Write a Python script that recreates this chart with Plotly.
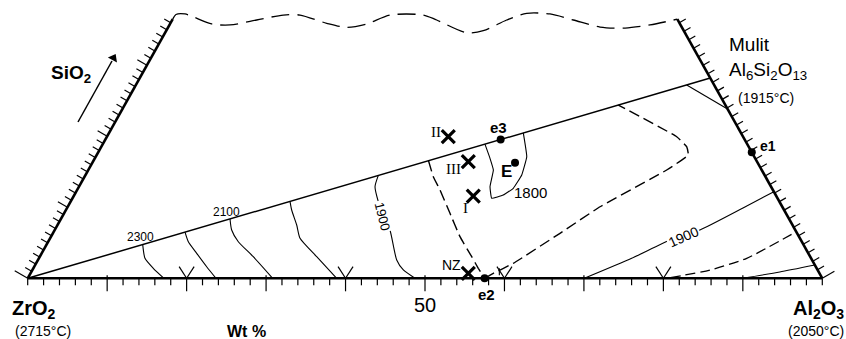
import plotly.graph_objects as go

# ZrO2–Al2O3–SiO2 section in wt %. Every point is (Al2O3, SiO2); ZrO2 is the remainder.
SIO2_TOP = 36.5
MULLITE = (71.8, 28.2)

# liquidus isotherms (solid)
iso_2300 = [(12.10, 4.75), (13.35, 2.82), (15.10, 1.41), (17.15, 0.0)]
iso_2200 = [(16.55, 6.50), (17.64, 5.15), (19.51, 3.52), (21.71, 1.63), (23.70, 0.0)]
iso_2100 = [(21.28, 8.36), (22.27, 6.80), (23.93, 5.15), (26.87, 3.04), (30.83, 0.0)]
iso_2000 = [(27.59, 10.84), (28.41, 9.62), (30.10, 7.51), (31.46, 5.63), (34.85, 3.04), (38.89, 0.0)]
iso_1900_zr = [(36.88, 14.49), (37.26, 12.90), (38.73, 10.79), (40.25, 8.92), (42.19, 6.80),
               (45.15, 2.58), (46.69, 1.17), (48.74, 0.0)]
iso_1900_al = [(70.05, 0.0), (74.60, 2.82), (78.15, 5.39), (81.20, 6.80), (85.07, 9.90), (87.80, 12.20)]
iso_1800_al = [(90.0, 0.0), (94.2, 0.89), (98.13, 1.87)]
iso_1800_e = [(48.10, 18.89), (49.73, 16.90), (50.98, 15.25), (51.73, 12.90), (52.76, 11.27),
              (53.99, 11.73), (54.77, 12.68), (54.90, 14.55), (54.24, 17.13), (52.13, 20.48)]
mullite_iso = [(69.32, 27.23), (76.15, 23.85)]

# dashed curves
iso_1850_al = [(80.85, 0.1), (85.28, 1.17), (89.08, 2.82), (93.44, 6.56)]
field_zr = [(42.16, 16.56), (43.89, 14.31), (45.67, 12.44), (48.57, 9.15), (51.47, 5.86),
            (54.36, 3.04), (56.00, 1.41), (57.50, 0.0)]
field_al = [(57.50, 0.0), (58.25, 0.70), (60.06, 2.11), (63.82, 6.34), (66.99, 10.08),
            (72.79, 15.25), (74.45, 17.37), (73.66, 18.54), (71.71, 19.94), (62.13, 24.40)]
top_break = [(0.0, 36.5), (0.08, 37.15), (1.18, 37.23), (5.25, 35.82), (7.62, 35.68), (10.63, 36.38),
             (13.63, 37.08), (15.73, 37.08), (19.67, 35.92), (22.47, 35.35), (24.75, 35.82),
             (27.05, 37.08), (31.25, 37.08), (33.28, 36.38), (37.95, 34.59), (39.90, 34.87),
             (42.09, 36.38), (44.14, 37.32), (47.11, 37.23), (50.47, 36.38), (54.33, 35.39),
             (57.55, 35.25), (60.48, 35.68), (63.5, 36.5)]

# invariant points and samples
eutectics = {"e1": (82.25, 17.75), "e2": (57.5, 0.0), "e3": (49.75, 19.54), "E": (53.19, 16.28)}
samples = {"I": (50.28, 11.59), "II": (42.96, 19.94), "III": (47.24, 16.42), "NZ": (55.10, 0.70)}

base_ticks = list(range(0, 101, 2))
fork_ticks = [20, 40, 60, 80]
left_ticks = list(range(0, 37))
right_ticks = [0, 1.2, 2.4, 3.6, 4.8, 6.0, 7.2, 8.4, 9.6, 10.8, 12.0, 13.2, 14.4, 15.6, 16.8, 18.0,
               19.2, 20.4, 21.6, 22.8, 24.0, 25.2, 26.4, 27.6, 28.8, 30.0, 31.2, 32.4, 33.6, 34.8, 36.0]

# drawing scale (pixels per unit of the base coordinate and of SiO2)
PX_X, PX_Y = 7.946, 7.1
W, H = 846, 339
ORIGIN_PX = (27.7, 278.3)


def proj(pts):
    return [a + s / 2 for a, s in pts], [s for a, s in pts]


fig = go.Figure()


def add_line(pts, width=1.1, dash="solid", shape="spline", smoothing=0.6):
    x, y = proj(pts)
    fig.add_trace(go.Scatter(x=x, y=y, mode="lines",
                             line=dict(color="black", width=width, dash=dash, shape=shape,
                                       smoothing=smoothing),
                             hoverinfo="skip"))


# frame
add_line([(0, 0), (100, 0)], width=2.6, shape="linear")
add_line([(0, 0), (0, SIO2_TOP)], width=2.6, shape="linear")
add_line([(100, 0), (100 - SIO2_TOP, SIO2_TOP)], width=2.6, shape="linear")
add_line([(0, 0), MULLITE], width=1.5, shape="linear")
add_line(top_break, width=1.3, dash="18px,8px", smoothing=0.8)

# tick marks
tx, ty = [], []


def seg(x0, y0, dxp, dyp, dxp0=0.0, dyp0=0.0):
    tx.extend([x0 + dxp0 / PX_X, x0 + dxp / PX_X, None])
    ty.extend([y0 + dyp0 / PX_Y, y0 + dyp / PX_Y, None])


for v in base_ticks:
    if v in fork_ticks:
        seg(v, 0, 0, -13)
        seg(v, 0, -7.5, 11.7)
        seg(v, 0, 7.5, 11.7)
    elif v % 10 == 0 and v not in (0, 100):
        seg(v, 0, 0, -13, 0, 3)
    else:
        seg(v, 0, 0, -7)
for s in left_ticks:
    L = 15 if s == 0 else (11 if s % 10 == 0 else 7.5)
    seg(s / 2, s, -0.866 * L, 0.5 * L)
for s in right_ticks:
    L = 14 if s == 0 else 7.5
    seg(100 - s / 2, s, 0.866 * L, 0.5 * L)
fig.add_trace(go.Scatter(x=tx, y=ty, mode="lines", line=dict(color="black", width=1.2),
                         hoverinfo="skip"))

# isotherms and field boundaries
for c in (iso_2300, iso_2200, iso_2100, iso_2000, iso_1900_zr, iso_1900_al, iso_1800_al):
    add_line(c)
add_line(iso_1800_e, width=1.1, smoothing=0.3)
add_line(mullite_iso, shape="linear")
add_line(iso_1850_al, width=1.3, dash="10px,5px")
add_line(field_zr, width=1.4, dash="11px,5px", smoothing=0.3)
add_line(field_al, width=1.4, dash="11px,5px", smoothing=0.3)

# small cross tick on the e2 boundary
cx, cy = proj([field_al[1]])
fig.add_trace(go.Scatter(x=[cx[0] + 6 / PX_X, cx[0] + 6 / PX_X], y=[cy[0] - 2 / PX_Y, cy[0] + 5 / PX_Y],
                         mode="lines", line=dict(color="black", width=1.1), hoverinfo="skip"))

ex, ey = proj(eutectics.values())
fig.add_trace(go.Scatter(x=ex, y=ey, mode="markers",
                         marker=dict(color="black", size=8, symbol="circle"), hoverinfo="skip"))
sx, sy = proj(samples.values())
fig.add_trace(go.Scatter(x=sx, y=sy, mode="markers",
                         marker=dict(color="black", size=13, symbol="x-thin",
                                     line=dict(color="black", width=3.2)), hoverinfo="skip"))

SANS = "Liberation Sans, Arial, sans-serif"
SERIF = "Liberation Serif, Times New Roman, serif"


def label_at(pt, text, dx, dy, size=14, bold=False, family=SANS, bg=None, angle=None):
    """Text placed dx, dy pixels away from a composition point."""
    x, y = proj([pt])
    opts = {}
    if bg:
        opts["bgcolor"] = bg
    if angle is not None:
        opts["textangle"] = angle
    fig.add_annotation(x=x[0] + dx / PX_X, y=y[0] + dy / PX_Y, text=text, showarrow=False,
                       xanchor="center", yanchor="middle",
                       font=dict(family=family, size=size, color="black",
                                 weight="bold" if bold else "normal"), **opts)


label_at(eutectics["e1"], "e1", 16, 6, 14, True)
label_at(eutectics["e2"], "e2", 2, -16, 15, True)
label_at(eutectics["e3"], "e3", -2, 12, 15, True)
label_at(eutectics["E"], "E", -9, -9, 17, True)
label_at(samples["II"], "II", -12, 5, 15, family=SERIF)
label_at(samples["III"], "III", -15, -7, 15, family=SERIF)
label_at(samples["I"], "I", -8, -12, 15, family=SERIF)
label_at(samples["NZ"], "NZ", -17, 8, 14)

# isotherm labels
label_at(iso_2300[0], "2300", -2, 8, 12)
label_at(iso_2100[0], "2100", -4, 7, 12)
label_at(iso_1800_e[6], "1800", 17, -4, 15)
label_at(iso_1900_zr[3], "1900", -1, -2, 13, bg="white", angle=76)
label_at(iso_1900_al[2], "1900", 13, 3, 14, bg="white", angle=-24)


def paper_text(px, py, text, size, anchor="center", bold=False):
    fig.add_annotation(x=px / W, y=1 - py / H, xref="paper", yref="paper", text=text,
                       showarrow=False, xanchor=anchor, yanchor="middle",
                       font=dict(family=SANS, size=size, color="black",
                                 weight="bold" if bold else "normal"))


paper_text(71, 74, "SiO<sub>2</sub>", 19, bold=True)
paper_text(34, 309, "ZrO<sub>2</sub>", 20, bold=True)
paper_text(43, 331, "(2715°C)", 14)
paper_text(247, 331, "Wt %", 16, bold=True)
paper_text(425, 305, "50", 20)
paper_text(846, 309, "Al<sub>2</sub>O<sub>3</sub>", 20, anchor="right", bold=True)
paper_text(846, 331, "(2050°C)", 14, anchor="right")
paper_text(727, 44, "Mulit", 19, anchor="left")
paper_text(727, 71, "Al<sub>6</sub>Si<sub>2</sub>O<sub>13</sub>", 19, anchor="left")
paper_text(736, 98, "(1915°C)", 14, anchor="left")

# SiO2 direction arrow, drawn as a shaft plus a filled head
fig.add_shape(type="line", x0=(78 - ORIGIN_PX[0]) / PX_X, y0=(ORIGIN_PX[1] - 122) / PX_Y,
              x1=(112 - ORIGIN_PX[0]) / PX_X, y1=(ORIGIN_PX[1] - 61) / PX_Y,
              line=dict(color="black", width=1.5))
fig.add_trace(go.Scatter(x=[(113.5 - ORIGIN_PX[0]) / PX_X], y=[(ORIGIN_PX[1] - 58) / PX_Y],
                         mode="markers", hoverinfo="skip",
                         marker=dict(symbol="triangle-up", size=9, angle=29, color="black",
                                     line=dict(width=0))))

fig.update_layout(
    width=W, height=H, margin=dict(l=0, r=0, t=0, b=0),
    paper_bgcolor="white", plot_bgcolor="white", showlegend=False,
    xaxis=dict(visible=False, range=[-ORIGIN_PX[0] / PX_X, (W - ORIGIN_PX[0]) / PX_X]),
    yaxis=dict(visible=False, range=[(ORIGIN_PX[1] - H) / PX_Y, ORIGIN_PX[1] / PX_Y]),
)

fig.write_html("out.html")
